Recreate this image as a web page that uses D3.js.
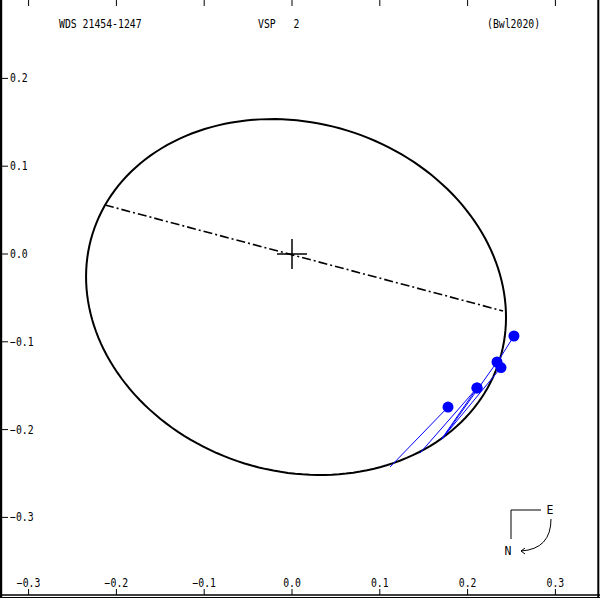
<!DOCTYPE html>
<html>
<head>
<meta charset="utf-8">
<script src="https://cdn.jsdelivr.net/npm/d3@7"></script>
<style>
  body { margin: 0; background: #fff; }
  text { font-family: "DejaVu Sans Mono", "Liberation Mono", monospace; font-size: 11.5px; fill: #000; white-space: pre; }
</style>
</head>
<body>
<div id="chart"></div>
<script>
// header texts
var titles = ["WDS 21454-1247", "VSP   2", "(Bwl2020)"];

// tick values (arcsec)
var xTicks = [-0.3, -0.2, -0.1, 0.0, 0.1, 0.2, 0.3];
var yTicks = [0.2, 0.1, 0.0, -0.1, -0.2, -0.3];

// apparent orbit ellipse: centre, semi-axes, tilt (deg)
var orbitCenter = [0.0046, -0.049];
var orbitAxes = [0.2427, 0.1984];
var orbitAngle = -17.2;

// line of nodes, through the primary
var nodeLine = [[-0.213, 0.0558], [0.2403, -0.0649]];

// observations and their predicted positions on the orbit
var obs = [[0.2528, -0.0934], [0.2335, -0.1230], [0.2380, -0.1294], [0.2107, -0.1526], [0.2107, -0.1526], [0.1777, -0.1743]];
var pred = [[0.2369, -0.1185], [0.1720, -0.2096], [0.1754, -0.2050], [0.1458, -0.2267], [0.1697, -0.2118], [0.1116, -0.2426]];

var W = 600, H = 600;
var svg = d3.select("#chart").append("svg")
    .attr("width", W)
    .attr("height", H);

// same scale on both axes, 0.1" ~ 87.8 px
var x = d3.scaleLinear().domain([-0.3, 0.3]).range([28.6, 555.4]);
var y = d3.scaleLinear().domain([-0.3, 0.2]).range([517.4, 78.4]);

// narrow pixel-ish font: squeeze every string to ~5.9 px per char
function squeeze(sel) {
    sel.attr("textLength", function () { return this.textContent.length * 5.9; })
        .attr("lengthAdjust", "spacingAndGlyphs");
}

// frame
svg.append("line").attr("x1", 1).attr("y1", 0).attr("x2", 1).attr("y2", 598)
    .attr("stroke", "#000").attr("stroke-width", 2.4);
svg.append("line").attr("x1", 598.3).attr("y1", 0).attr("x2", 598.3).attr("y2", 598)
    .attr("stroke", "#000").attr("stroke-width", 2);
svg.append("line").attr("x1", 0).attr("y1", 595).attr("x2", 600).attr("y2", 595)
    .attr("stroke", "#000").attr("stroke-width", 1.5);
svg.append("line").attr("x1", 0).attr("y1", 597.5).attr("x2", 600).attr("y2", 597.5)
    .attr("stroke", "#000").attr("stroke-width", 1);

// x ticks top and bottom
var gx = svg.append("g");
gx.selectAll(".tb").data(xTicks).join("line")
    .attr("x1", d => x(d)).attr("x2", d => x(d))
    .attr("y1", 589).attr("y2", 595)
    .attr("stroke", "#000");
gx.selectAll(".tt").data(xTicks).join("line")
    .attr("class", "tt")
    .attr("x1", d => x(d)).attr("x2", d => x(d))
    .attr("y1", 0).attr("y2", 6)
    .attr("stroke", "#000");
gx.selectAll("text").data(xTicks).join("text")
    .attr("x", d => x(d))
    .attr("y", 587)
    .attr("text-anchor", "middle")
    .text(d => d3.format(".1f")(d))
    .call(squeeze);

// y ticks on the left
var gy = svg.append("g");
gy.selectAll("line").data(yTicks).join("line")
    .attr("x1", 2).attr("x2", 8)
    .attr("y1", d => y(d)).attr("y2", d => y(d))
    .attr("stroke", "#000");
gy.selectAll("text").data(yTicks).join("text")
    .attr("x", 10)
    .attr("y", d => y(d))
    .attr("dy", "0.35em")
    .text(d => d3.format(".1f")(d))
    .call(squeeze);

// header
svg.selectAll(".title").data(titles).join("text")
    .attr("class", "title")
    .attr("x", (d, i) => [59, 258, 487][i])
    .attr("y", 28)
    .text(d => d)
    .call(squeeze);

// orbit ellipse
var phi = orbitAngle * Math.PI / 180;
var ell = d3.range(0, 361, 2).map(function (deg) {
    var t = deg * Math.PI / 180;
    var u = orbitAxes[0] * Math.cos(t), v = orbitAxes[1] * Math.sin(t);
    return [orbitCenter[0] + u * Math.cos(phi) - v * Math.sin(phi),
            orbitCenter[1] + u * Math.sin(phi) + v * Math.cos(phi)];
});
var line = d3.line().x(d => x(d[0])).y(d => y(d[1])).curve(d3.curveLinearClosed);
svg.append("path")
    .attr("d", line(ell))
    .attr("fill", "none")
    .attr("stroke", "#000")
    .attr("stroke-width", 2);

// line of nodes
svg.append("line")
    .attr("x1", x(nodeLine[0][0])).attr("y1", y(nodeLine[0][1]))
    .attr("x2", x(nodeLine[1][0])).attr("y2", y(nodeLine[1][1]))
    .attr("stroke", "#000")
    .attr("stroke-width", 1.6)
    .attr("stroke-dasharray", "9,3,2,3");

// primary
svg.append("line").attr("x1", x(0) - 15).attr("x2", x(0) + 15)
    .attr("y1", y(0)).attr("y2", y(0)).attr("stroke", "#000").attr("stroke-width", 1.5);
svg.append("line").attr("x1", x(0)).attr("x2", x(0))
    .attr("y1", y(0) - 15).attr("y2", y(0) + 15).attr("stroke", "#000").attr("stroke-width", 1.5);

// O-C lines and observations
svg.selectAll(".oc").data(obs).join("line")
    .attr("class", "oc")
    .attr("x1", d => x(d[0])).attr("y1", d => y(d[1]))
    .attr("x2", (d, i) => x(pred[i][0])).attr("y2", (d, i) => y(pred[i][1]))
    .attr("stroke", "#0000ff")
    .attr("stroke-width", 1);
svg.selectAll(".ob").data(obs).join("circle")
    .attr("class", "ob")
    .attr("cx", d => x(d[0])).attr("cy", d => y(d[1]))
    .attr("r", 5.5)
    .attr("fill", "#0000ff");

// orientation sign
var comp = svg.append("g");
comp.append("path")
    .attr("d", "M541,510 H511 V539")
    .attr("fill", "none").attr("stroke", "#000");
comp.append("path")
    .attr("d", "M551,519 Q551,549 521,551 M521,551 l4,-3 M521,551 l4,3")
    .attr("fill", "none").attr("stroke", "#000");
comp.append("text").attr("x", 550).attr("y", 510).attr("dy", "0.35em")
    .attr("text-anchor", "middle").text("E");
comp.append("text").attr("x", 508).attr("y", 551).attr("dy", "0.35em")
    .attr("text-anchor", "middle").text("N");
</script>
</body>
</html>
